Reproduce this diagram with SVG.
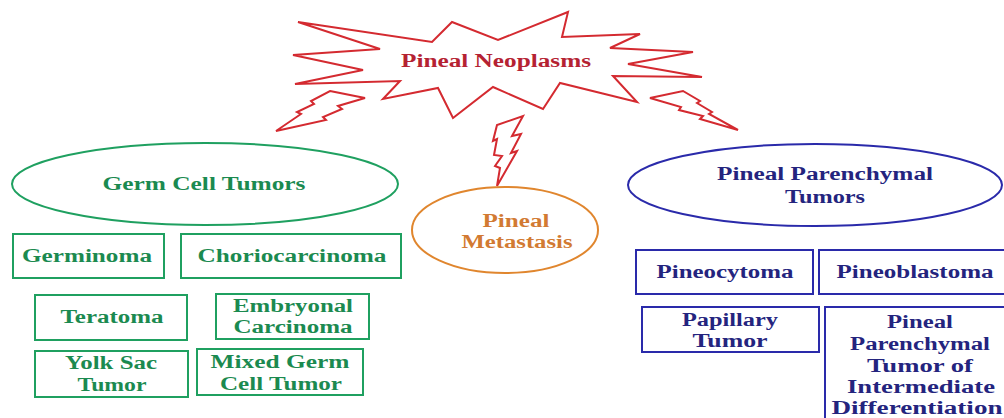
<svg xmlns="http://www.w3.org/2000/svg" width="1004" height="418" viewBox="0 0 1004 418">
<style>
text{font-family:"Liberation Serif","Times New Roman",serif;font-weight:bold;font-size:18px;text-anchor:middle}
.red{fill:none;stroke:#d42a30;stroke-width:2;stroke-linejoin:miter}
.g{fill:none;stroke:#1fa060;stroke-width:2}
.gt{fill:#1b8a50}
.o{fill:none;stroke:#e0862e;stroke-width:2}
.ot{fill:#d27a32}
.b{fill:none;stroke:#2a2aaa;stroke-width:2}
.bt{fill:#24247e}
.rt{fill:#b52232}
</style>
<rect width="1004" height="418" fill="#ffffff"/>
<g id="pineal-neoplasms">
<polygon class="red" points="298,22 432,42 452,22 498,40 568,12 562,37 640,34 610,48 693,52 628,64 702,77 613,76 637,102 560,83 543,109 493,87 453,118 438,88 383,99 400,81 295,84 363,70 293,55 380,49"/>
<text class="rt" x="496" y="67" font-size="19" textLength="190" lengthAdjust="spacingAndGlyphs">Pineal Neoplasms</text>
</g>
<g id="connectors">
<polygon class="red" points="330,91 365,98 338,106 342,109 323,117 326,120 276,131 301,114 297,112 314,104 311,101"/>
<polygon class="red" points="523,116 512,136 521,134 511,153 517,151 497,186 500,168 495,166 502,156 494,155 497,139 493,141 497,125"/>
<polygon class="red" points="650,98 683,91 700,101 697,103 712,112 709,114 738,130 700,119 703,116 679,110 681,107"/>
</g>
<g id="germ-cell-tumors">
<ellipse class="g" cx="205" cy="184" rx="193" ry="41"/>
<text class="gt" x="204" y="190" textLength="203" lengthAdjust="spacingAndGlyphs">Germ Cell Tumors</text>
</g>
<g id="germinoma">
<rect class="g" x="13" y="234" width="151" height="44"/>
<text class="gt" x="87" y="262" textLength="130" lengthAdjust="spacingAndGlyphs">Germinoma</text>
</g>
<g id="choriocarcinoma">
<rect class="g" x="181" y="234" width="220" height="44"/>
<text class="gt" x="292" y="262" textLength="189" lengthAdjust="spacingAndGlyphs">Choriocarcinoma</text>
</g>
<g id="teratoma">
<rect class="g" x="35" y="295" width="152" height="45"/>
<text class="gt" x="112" y="323" textLength="103" lengthAdjust="spacingAndGlyphs">Teratoma</text>
</g>
<g id="embryonal-carcinoma">
<rect class="g" x="216" y="294" width="153" height="45"/>
<text class="gt" x="293" y="312" textLength="120" lengthAdjust="spacingAndGlyphs">Embryonal</text>
<text class="gt" x="293" y="333" textLength="119" lengthAdjust="spacingAndGlyphs">Carcinoma</text>
</g>
<g id="yolk-sac-tumor">
<rect class="g" x="35" y="351" width="153" height="46"/>
<text class="gt" x="111" y="369" textLength="92" lengthAdjust="spacingAndGlyphs">Yolk Sac</text>
<text class="gt" x="112" y="391" textLength="69" lengthAdjust="spacingAndGlyphs">Tumor</text>
</g>
<g id="mixed-germ-cell-tumor">
<rect class="g" x="197" y="349" width="166" height="46"/>
<text class="gt" x="280" y="368" textLength="139" lengthAdjust="spacingAndGlyphs">Mixed Germ</text>
<text class="gt" x="281" y="390" textLength="122" lengthAdjust="spacingAndGlyphs">Cell Tumor</text>
</g>
<g id="pineal-metastasis">
<ellipse class="o" cx="505" cy="230" rx="93" ry="43"/>
<text class="ot" x="516" y="227" textLength="67" lengthAdjust="spacingAndGlyphs">Pineal</text>
<text class="ot" x="517" y="248" textLength="111" lengthAdjust="spacingAndGlyphs">Metastasis</text>
</g>
<g id="pineal-parenchymal-tumors">
<ellipse class="b" cx="815" cy="185" rx="187" ry="41"/>
<text class="bt" x="825" y="180" textLength="216" lengthAdjust="spacingAndGlyphs">Pineal Parenchymal</text>
<text class="bt" x="825" y="203" textLength="80" lengthAdjust="spacingAndGlyphs">Tumors</text>
</g>
<g id="pineocytoma">
<rect class="b" x="636" y="250" width="177" height="44"/>
<text class="bt" x="725" y="278" textLength="137" lengthAdjust="spacingAndGlyphs">Pineocytoma</text>
</g>
<g id="pineoblastoma">
<rect class="b" x="819" y="250" width="190" height="44"/>
<text class="bt" x="915" y="278" textLength="157" lengthAdjust="spacingAndGlyphs">Pineoblastoma</text>
</g>
<g id="papillary-tumor">
<rect class="b" x="642" y="307" width="177" height="45"/>
<text class="bt" x="730" y="326" textLength="96" lengthAdjust="spacingAndGlyphs">Papillary</text>
<text class="bt" x="730" y="347" textLength="75" lengthAdjust="spacingAndGlyphs">Tumor</text>
</g>
<g id="pineal-parenchymal-tumor-intermediate">
<rect class="b" x="825" y="307" width="190" height="120"/>
<text class="bt" x="920" y="328" textLength="66" lengthAdjust="spacingAndGlyphs">Pineal</text>
<text class="bt" x="920" y="350" textLength="140" lengthAdjust="spacingAndGlyphs">Parenchymal</text>
<text class="bt" x="920" y="372" textLength="106" lengthAdjust="spacingAndGlyphs">Tumor of</text>
<text class="bt" x="921" y="393" textLength="148" lengthAdjust="spacingAndGlyphs">Intermediate</text>
<text class="bt" x="917" y="414" textLength="171" lengthAdjust="spacingAndGlyphs">Differentiation</text>
</g>
</svg>
